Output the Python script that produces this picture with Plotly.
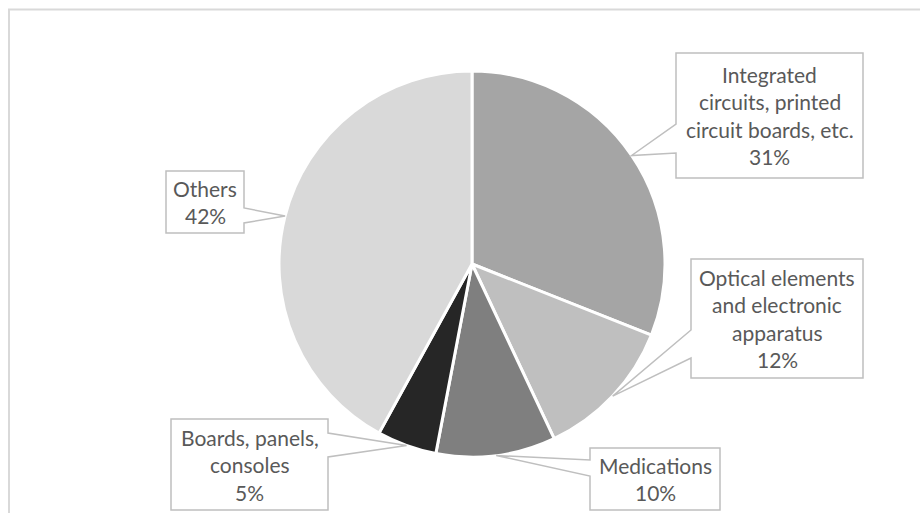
import math
import plotly.graph_objects as go

# --- data -------------------------------------------------------------
categories = [
    "Integrated circuits, printed circuit boards, etc.",
    "Optical elements and electronic apparatus",
    "Medications",
    "Boards, panels, consoles",
    "Others",
]
values = [31, 12, 10, 5, 42]
label_lines = [
    ["Integrated", "circuits, printed", "circuit boards, etc."],
    ["Optical elements", "and electronic", "apparatus"],
    ["Medications"],
    ["Boards, panels,", "consoles"],
    ["Others"],
]
slice_colors = ["#a5a5a5", "#bfbfbf", "#7f7f7f", "#262626", "#d9d9d9"]

# --- layout constants (pixels) ----------------------------------------
W, H = 920, 513
CX, CY, R = 472, 264, 193          # pie centre and radius
# callout boxes: x0, y0, x1, y1, side of the pointer, pointer base y-range
boxes = [
    (676, 53, 863, 178, "left", 124, 153),
    (691, 259, 863, 378, "left", 330, 358),
    (590, 448, 720, 510, "left", 460, 476),
    (171, 419, 328, 510, "right", 433, 457),
    (166, 171, 244, 233, "right", 208, 223),
]
LINE_H = 27.5
FONT = "Lato"
FONT_SIZE = 21
TEXT_COLOR = "#595959"
BOX_LINE = "#bfbfbf"

fig = go.Figure()

fig.add_trace(go.Pie(
    labels=categories,
    values=values,
    sort=False,
    direction="clockwise",
    rotation=0,
    marker=dict(colors=slice_colors, line=dict(color="white", width=3)),
    textinfo="none",
    hoverinfo="skip",
    showlegend=False,
    domain=dict(x=[(CX - R) / W, (CX + R) / W],
                y=[(H - CY - R) / H, (H - CY + R) / H]),
))

shapes = []
annotations = []

# outer chart-area frame
shapes.append(dict(type="rect", xref="x", yref="y", x0=9, y0=9.5, x1=940, y1=540,
                   line=dict(color="#d9d9d9", width=2), fillcolor="rgba(0,0,0,0)",
                   layer="below"))

total = sum(values)
cum = 0
for i, v in enumerate(values):
    mid = (cum + v / 2) / total * 2 * math.pi
    cum += v
    tip_x = CX + R * math.sin(mid)
    tip_y = CY - R * math.cos(mid)

    x0, y0, x1, y1, side, b0, b1 = boxes[i]
    if side == "left":
        path = (f"M {x0},{y0} L {x1},{y0} L {x1},{y1} L {x0},{y1} "
                f"L {x0},{b1} L {tip_x:.1f},{tip_y:.1f} L {x0},{b0} Z")
    else:
        path = (f"M {x0},{y0} L {x1},{y0} L {x1},{b0} L {tip_x:.1f},{tip_y:.1f} "
                f"L {x1},{b1} L {x1},{y1} L {x0},{y1} Z")
    shapes.append(dict(type="path", xref="x", yref="y", path=path,
                       line=dict(color=BOX_LINE, width=1.5),
                       fillcolor="white", layer="above"))

    lines = label_lines[i] + [f"{v}%"]
    cy_box = (y0 + y1) / 2
    cx_box = (x0 + x1) / 2
    n = len(lines)
    for k, txt in enumerate(lines):
        ly = cy_box + (k - (n - 1) / 2) * LINE_H
        annotations.append(dict(x=cx_box, y=ly, xref="x", yref="y", text=txt,
                                showarrow=False, xanchor="center", yanchor="middle",
                                font=dict(family=FONT, size=FONT_SIZE, color=TEXT_COLOR)))

fig.update_layout(
    width=W, height=H,
    margin=dict(l=0, r=0, t=0, b=0),
    paper_bgcolor="white",
    plot_bgcolor="rgba(0,0,0,0)",
    xaxis=dict(range=[0, W], visible=False, fixedrange=True, domain=[0, 1]),
    yaxis=dict(range=[H, 0], visible=False, fixedrange=True, domain=[0, 1]),
    shapes=shapes,
    annotations=annotations,
    showlegend=False,
)

fig.write_html("out.html")
